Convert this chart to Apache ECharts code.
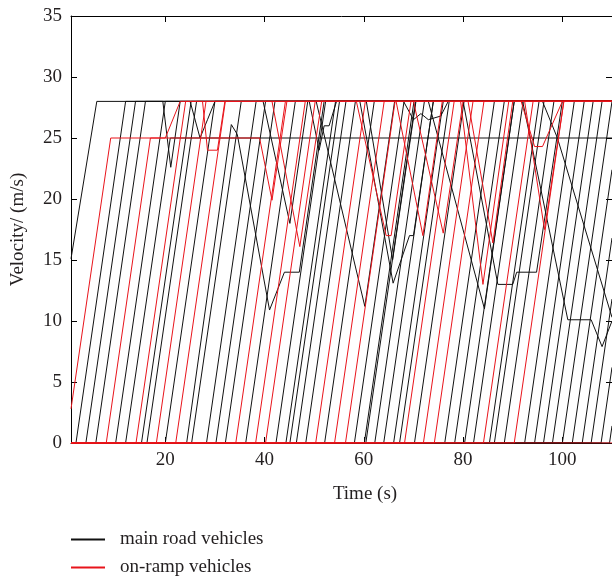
<!DOCTYPE html>
<html><head><meta charset="utf-8">
<script src="https://cdn.jsdelivr.net/npm/echarts@6/dist/echarts.min.js"></script>
<style>html,body{margin:0;padding:0;background:#fff}#c{width:612px;height:578px}</style>
</head><body><div id="c"></div>
<script>
const xTickValues = [20, 40, 60, 80, 100];
const yTickValues = [0, 5, 10, 15, 20, 25, 30, 35];
const seriesNames = ['main road vehicles', 'on-ramp vehicles'];
const xLabel = 'Time (s)';
const yLabel = 'Velocity/ (m/s)';

// Each vehicle: velocity polyline [time (s), velocity (m/s)]
const mainRoadVehicles = [
 [[1,15.1],[6.2,28],[110,28]],
 [[1,0],[2,0],[12,28],[110,28]],
 [[1,0],[4,0],[14,28],[110,28]],
 [[1,0],[6,0],[16,28],[19.5,28],[21.1,22.6],[23,28],[110,28]],
 [[1,0],[10,0],[20,28],[25,28],[27,25],[28.5,26.5],[30,28],[110,28]],
 [[1,0],[12,0],[21,25],[110,25]],
 [[1,0],[15.2,0],[25.2,28],[110,28]],
 [[1,0],[16.3,0],[26.3,28],[110,28]],
 [[1,0],[20,0],[30,28],[110,28]],
 [[1,0],[24.3,0],[33.3,26.1],[34.5,25.3],[41,10.9],[44,14],[47,14],[52,28],[110,28]],
 [[1,0],[25.3,0],[35.3,28],[110,28]],
 [[1,0],[28.3,0],[38.3,28],[39.7,28],[45.1,18],[48.7,28],[110,28]],
 [[1,0],[30.2,0],[40.2,28],[110,28]],
 [[1,0],[32.1,0],[42.1,28],[49,28],[51,24],[52,26],[53,26],[54.5,28],[110,28]],
 [[1,0],[36.2,0],[46.2,28],[50.4,28],[60.2,11.2],[66.2,28],[110,28]],
 [[1,0],[42.3,0],[52.3,28],[59.2,28],[65.9,13.1],[69.2,17],[70,17],[74,28],[110,28]],
 [[1,0],[44.3,0],[54.3,28],[60.5,28],[65.8,15],[70.5,28],[110,28]],
 [[1,0],[45.1,0],[55.1,28],[110,28]],
 [[1,0],[46.4,0],[56.4,28],[80,28],[87,13],[90,13],[90.8,14],[94.8,14],[100,28],[110,28]],
 [[1,0],[48.3,0],[58.3,28],[73,28],[84.3,11],[90.3,28],[110,28]],
 [[1,0],[52.1,0],[62.1,28],[68,28],[70,26.5],[71.5,27],[73,26.5],[75.5,26.8],[77,28],[110,28]],
 [[1,0],[58.1,0],[68.1,28],[110,28]],
 [[1,0],[60.1,0],[70.1,28],[92,28],[101.1,10.1],[105.8,10.1],[108,7.9],[110,10]],
 [[1,0],[60.4,0],[70.4,28],[110,28]],
 [[1,0],[62.2,0],[72.2,28],[110,28]],
 [[1,0],[64,0],[74,28],[96,28],[99,25],[110,10.3]],
 [[1,0],[66,0],[76,28],[110,28]],
 [[1,0],[67.2,0],[77.2,28],[110,28]],
 [[1,0],[70.2,0],[80.2,28],[110,28]],
 [[1,0],[76.3,0],[86.3,28],[110,28]],
 [[1,0],[78.3,0],[88.3,28],[110,28]],
 [[1,0],[80.3,0],[90.3,28],[110,28]],
 [[1,0],[82.1,0],[92.1,28],[110,28]],
 [[1,0],[85.3,0],[95.3,28],[110,28]],
 [[1,0],[86.3,0],[96.3,28],[110,28]],
 [[1,0],[88.3,0],[98.3,28],[110,28]],
 [[1,0],[92.4,0],[102.4,28],[110,28]],
 [[1,0],[94.4,0],[104.4,28],[110,28]],
 [[1,0],[96.2,0],[106.2,28],[110,28]],
 [[1,0],[98,0],[108,28],[110,28]],
 [[1,0],[100,0],[110,28]],
 [[1,0],[102,0],[110,22.4]],
 [[1,0],[104,0],[110,16.8]],
 [[1,0],[105.8,0],[110,11.8]],
 [[1,0],[107.8,0],[110,6.2]],
 [[1,0],[109.5,0],[110,1.4]]
];

const onRampVehicles = [
 [[1,2.8],[9,25],[20,25],[23,28],[110,28]],
 [[1,0],[8.1,0],[17,25],[39,25],[41.5,19.9],[44.5,28],[110,28]],
 [[1,0],[14.1,0],[24.1,28],[27.5,28],[28.5,24],[30.5,24],[32,28],[110,28]],
 [[1,0],[18.2,0],[28.2,28],[110,28]],
 [[1,0],[22.1,0],[32.1,28],[41.5,28],[47.1,16.1],[51.5,28],[110,28]],
 [[1,0],[34.2,0],[44.2,28],[110,28]],
 [[1,0],[38.2,0],[48.2,28],[58.5,28],[64.5,17],[65.5,17],[69.5,28],[110,28]],
 [[1,0],[40.2,0],[50.2,28],[66.5,28],[71.9,17],[75.8,28],[110,28]],
 [[1,0],[50.3,0],[60.3,28],[70,28],[76,17.2],[80,28],[110,28]],
 [[1,0],[54.1,0],[64.1,28],[79.5,28],[84,13],[89.2,28],[110,28]],
 [[1,0],[56.3,0],[66.3,28],[81,28],[86,16.4],[90,28],[110,28]],
 [[1,0],[68.2,0],[78.2,28],[91.7,28],[94.4,24.3],[96,24.3],[100,28],[110,28]],
 [[1,0],[72,0],[82,28],[110,28]],
 [[1,0],[74.2,0],[84.2,28],[92.4,28],[96.4,17.5],[100.3,28],[110,28]],
 [[1,0],[84.1,0],[94.1,28],[110,28]],
 [[1,0],[90.3,0],[100.3,28],[110,28]],
 [[1,0],[110,0]]
];

const FONT = 'Liberation Serif';
const TXT = '#231f20';
const BLACK = '#111111';
const RED = '#e8141b';

const chart = echarts.init(document.getElementById('c'), null, {renderer: 'canvas'});

function mk(data, name, color, z) {
  return {
    type: 'line', name: name, data: data, symbol: 'none', showSymbol: false,
    silent: true, z: z, animation: false, color: color,
    lineStyle: {color: color, width: 1}, itemStyle: {color: color, borderColor: color}
  };
}

const series = [];
mainRoadVehicles.forEach(d => series.push(mk(d, seriesNames[0], BLACK, 2)));
onRampVehicles.forEach(d => series.push(mk(d, seriesNames[1], RED, 3)));

const axisLine = {show: true, onZero: false, lineStyle: {color: '#000', width: 1}};

function legendFor(name, color, top) {
  return {
    data: [{name: name,
            itemStyle: {color: color, borderColor: color, borderWidth: 0, opacity: 1},
            lineStyle: {color: color}}],
    orient: 'vertical', left: 71, top: top,
    padding: 0, icon: 'rect', itemWidth: 34, itemHeight: 2, itemGap: 0,
    itemStyle: {color: color, borderColor: color, borderWidth: 0},
    textStyle: {fontSize: 19, color: TXT, fontFamily: FONT, padding: [0, 0, 0, 10]}
  };
}

chart.setOption({
  animation: false,
  backgroundColor: '#fff',
  textStyle: {fontFamily: FONT},
  grid: {left: 71, top: 16, width: 542, height: 427},
  legend: [legendFor(seriesNames[0], BLACK, 530), legendFor(seriesNames[1], RED, 558)],
  xAxis: [{
    type: 'value', min: 1, max: 110, position: 'bottom',
    axisLine: axisLine,
    axisTick: {show: true, inside: true, length: 6, customValues: xTickValues, lineStyle: {color: '#000'}},
    axisLabel: {customValues: xTickValues, fontSize: 19, color: TXT, fontFamily: FONT, margin: 8},
    splitLine: {show: false}
  }, {
    type: 'value', min: 1, max: 110, position: 'top',
    axisLine: axisLine,
    axisTick: {show: true, inside: true, length: 6, customValues: xTickValues, lineStyle: {color: '#000'}},
    axisLabel: {show: false},
    splitLine: {show: false}
  }],
  yAxis: [{
    type: 'value', min: 0, max: 35, interval: 5, position: 'left',
    name: yLabel, nameLocation: 'middle', nameGap: 43,
    nameTextStyle: {fontSize: 19, color: TXT, fontFamily: FONT},
    axisLine: axisLine,
    axisTick: {show: true, inside: true, length: 6, lineStyle: {color: '#000'}},
    axisLabel: {fontSize: 19, color: TXT, fontFamily: FONT, margin: 9},
    splitLine: {show: false}
  }, {
    type: 'value', min: 0, max: 35, interval: 5, position: 'right',
    axisLine: axisLine,
    axisTick: {show: true, inside: true, length: 6, lineStyle: {color: '#000'}},
    axisLabel: {show: false},
    splitLine: {show: false}
  }],
  graphic: [{
    type: 'text', z: 10,
    style: {text: xLabel, x: 365, y: 494, align: 'center', verticalAlign: 'middle',
            font: '19px "Liberation Serif"', fill: TXT}
  }],
  series: series
});
</script>
</body></html>
